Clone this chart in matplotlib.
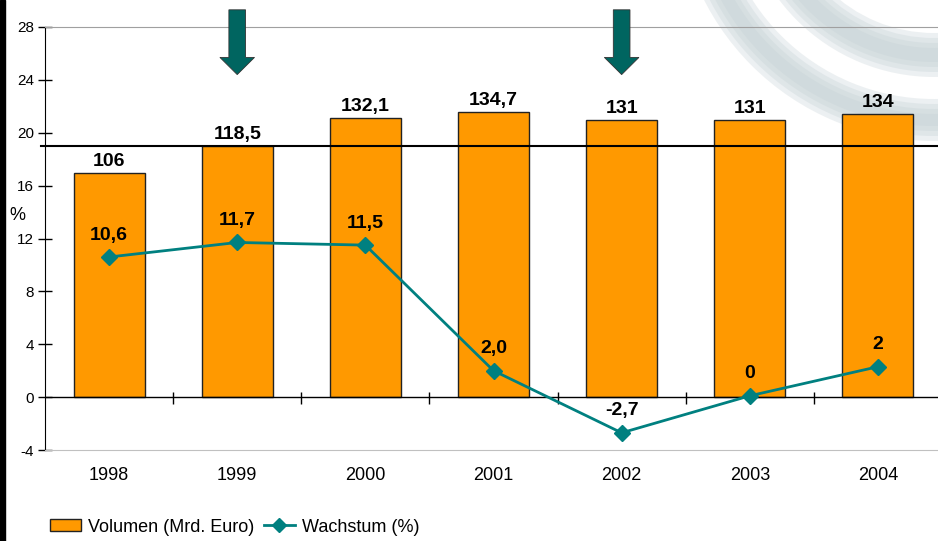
import matplotlib
matplotlib.use("Agg")
import matplotlib.pyplot as plt
from matplotlib.patches import Rectangle, Wedge, FancyArrow
from matplotlib.lines import Line2D
from matplotlib.patches import Patch

plt.rcParams['font.family'] = ['Liberation Sans', 'DejaVu Sans']
plt.rcParams['axes.unicode_minus'] = False

years = ["1998", "1999", "2000", "2001", "2002", "2003", "2004"]
volume = [106, 118.5, 132.1, 134.7, 131, 131, 134]
volumeLabels = ["106", "118,5", "132,1", "134,7", "131", "131", "134"]
growth = [10.6, 11.7, 11.5, 2.0, -2.7, 0.1, 2.3]
growthLabels = ["10,6", "11,7", "11,5", "2,0", "-2,7", "0", "2"]
arrowYears = ["1999", "2002"]
refLevel = 19

barColor = "#FF9900"
lineColor = "#008080"
arrowColor = "#006560"

W, H = 938, 541
fig = plt.figure(figsize=(W / 100, H / 100), dpi=100)

# background overlay in pixel units for the blurred watermark arcs
bg = fig.add_axes([0, 0, 1, 1], zorder=-1)
bg.set_xlim(0, W)
bg.set_ylim(H, 0)
bg.axis("off")
for rOut, rIn in [(258, 216), (194, 150)]:
    for shrink in [0, 5, 10, 15]:
        bg.add_patch(Wedge((934, -117), rOut - shrink, 0, 360, width=rOut - rIn - 2 * shrink,
                           facecolor="#C3CFD4", edgecolor="none", alpha=0.3))

# black strip at left edge
fig.add_artist(Rectangle((0, 0), 5 / W, 1, transform=fig.transFigure, color="black", zorder=5))

ax = fig.add_axes([45 / W, (H - 450) / H, 897 / W, 423 / H])
ax2 = ax.twinx()
ax.set_zorder(ax2.get_zorder() + 1)
ax.patch.set_visible(False)

x = list(range(len(years)))

# bars on hidden secondary scale
ax2.bar(x, volume, width=0.555, color=barColor, edgecolor="#222222", linewidth=1)
ax2.set_ylim(-25, 175)
ax2.axis("off")
for xi, v, lab in zip(x, volume, volumeLabels):
    ax2.annotate(lab, (xi, v), xytext=(0, 3), textcoords="offset pixels",
                 ha="center", va="bottom", fontsize=14, fontweight="bold")

# growth line
ax.plot(x, growth, color=lineColor, lw=2, marker="D", markersize=8.5, zorder=4)
for xi, g, lab in zip(x, growth, growthLabels):
    ax.annotate(lab, (xi, g), xytext=(0, 22), textcoords="offset pixels",
                ha="center", va="center", fontsize=14, fontweight="bold", zorder=5)

ax.set_xlim(-0.5, len(years) - 0.5)
ax.set_ylim(-4, 28)
ax.set_yticks(range(-4, 29, 4))
ax.tick_params(axis="y", direction="inout", length=10, width=1, labelsize=11, pad=3)
ax.set_xticks(x)
ax.set_xticklabels(years, fontsize=13)
ax.tick_params(axis="x", length=0, pad=12)

ax.spines["right"].set_visible(False)
ax.spines["top"].set_color("#A0A0A0")
ax.spines["bottom"].set_color("#C0C0C0")
ax.spines["left"].set_color("black")

# zero line with category ticks
ax.axhline(0, color="black", lw=1, zorder=3)
ax.vlines([i + 0.5 for i in x[:-1]], -0.5, 0.35, color="black", lw=1, zorder=3)

# reference line
ax.axhline(refLevel, xmin=-0.005, xmax=1, color="black", lw=1.5, zorder=3, clip_on=False)

# arrows
for yr in arrowYears:
    xi = years.index(yr)
    ax.add_patch(FancyArrow(xi, 29.3, 0, -4.9, width=0.13, head_width=0.27, head_length=1.3,
                            length_includes_head=True, facecolor=arrowColor,
                            edgecolor="#333333", linewidth=0.6, clip_on=False, zorder=6))

fig.text(17 / W, (H - 215) / H, "%", fontsize=13, ha="center", va="center")

handles = [Patch(facecolor=barColor, edgecolor="#222222", linewidth=1),
           Line2D([0], [0], color=lineColor, lw=2, marker="D", markersize=7)]
fig.legend(handles, ["Volumen (Mrd. Euro)", "Wachstum (%)"], loc="center left",
           bbox_to_anchor=(50 / W, (H - 527) / H), ncol=2, frameon=False, fontsize=13,
           borderpad=0, borderaxespad=0, handlelength=1.7, handletextpad=0.4,
           columnspacing=0.55, handleheight=0.65)

fig.savefig("out.png", dpi=100)
